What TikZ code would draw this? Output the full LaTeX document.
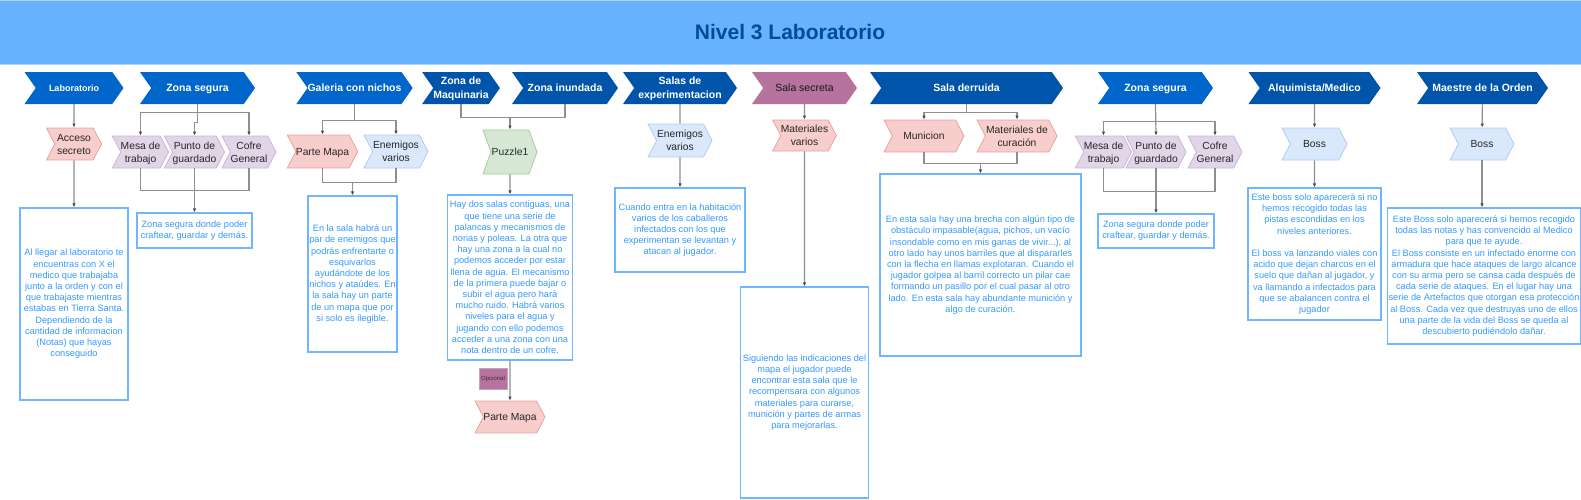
\documentclass[tikz,border=0pt]{standalone}
\usepackage{fontspec}
\setmainfont{Liberation Sans}
\usetikzlibrary{shapes.symbols, arrows.meta}

\definecolor{barra}{HTML}{66B2FF}
\definecolor{colortitulo}{HTML}{004C99}
\definecolor{azulA}{HTML}{0066CC}
\definecolor{azulB}{HTML}{0055AA}
\definecolor{morado}{HTML}{B5739D}
\definecolor{rosa}{HTML}{F8CECC}
\definecolor{rosaborde}{HTML}{E3A5A3}
\definecolor{lila}{HTML}{E1D5E7}
\definecolor{lilaborde}{HTML}{C9B6D5}
\definecolor{celeste}{HTML}{DAE8FC}
\definecolor{celesteborde}{HTML}{B3CBEE}
\definecolor{verde}{HTML}{D5E8D4}
\definecolor{verdeborde}{HTML}{AACC9F}
\definecolor{notaborde}{HTML}{70B5FF}
\definecolor{notatexto}{HTML}{3399FF}
\definecolor{linea}{HTML}{8F8F8F}

\tikzset{
  cabecera/.style={signal, signal from=west, signal to=east, signal pointer angle=110,
    fill=#1, draw=none, text=white, inner sep=0pt, minimum height=32, align=center,
    text depth=-3pt, font=\fontsize{10.5}{14}\selectfont\bfseries},
  cabecera/.default=azulA,
  etapa/.style={signal, signal from=west, signal to=east, signal pointer angle=125,
    line width=0.8pt, text=black!85, inner sep=0pt, minimum height=32, align=center,
    text depth=-3pt, font=\fontsize{10.3}{13}\selectfont},
  rosaetapa/.style={etapa, fill=rosa, draw=rosaborde},
  lilaetapa/.style={etapa, fill=lila, draw=lilaborde},
  celesteetapa/.style={etapa, fill=celeste, draw=celesteborde},
  verdeetapa/.style={etapa, fill=verde, draw=verdeborde},
  nota/.style={rectangle, draw=notaborde, line width=1.2pt, text=notatexto, fill=white,
    inner sep=1pt, align=center, font=\fontsize{9.2}{11.2}\selectfont},
  cn/.style={draw=linea, line width=1.2pt},
  arr/.style={cn, -{Latex[length=4pt, width=3.5pt, color=black!70]}}
}

\begin{document}
\begin{tikzpicture}[x=1pt, y=-1pt]
\useasboundingbox (0,0) rectangle (1581,499);

% Barra del titulo
\fill[barra] (0,0) rectangle (1581,65);
\draw[barra!55!white, line width=1pt] (0,0.5) -- (1581,0.5) (0,64.5) -- (1581,64.5);
\node[font=\fontsize{21}{24}\selectfont\bfseries, text=colortitulo] (titulo) at (790,32.5) {Nivel 3 Laboratorio};

% Cabeceras de las zonas
\node[cabecera, minimum width=99, font=\fontsize{9}{11}\selectfont\bfseries] (lab) at (74,88) {Laboratorio};
\node[cabecera, minimum width=115] (zs1) at (197.5,88) {Zona segura};
\node[cabecera, minimum width=115] (gal) at (354.5,88) {Galeria con nichos};
\node[cabecera=azulB, minimum width=72] (maq) at (461,88) {Zona de\\Maquinaria};
\node[cabecera=azulB, minimum width=106] (inu) at (565,88) {Zona inundada};
\node[cabecera=azulB, minimum width=114] (exp) at (680,88) {Salas de\\experimentacion};
\node[cabecera=morado, minimum width=105, text=black!90, font=\fontsize{10.5}{13}\selectfont] (sec) at (804.5,88) {Sala secreta};
\node[cabecera=azulB, minimum width=193] (der) at (966.5,88) {Sala derruida};
\node[cabecera, minimum width=115] (zs2) at (1155.5,88) {Zona segura};
\node[cabecera=azulB, minimum width=132] (alq) at (1314.5,88) {Alquimista/Medico};
\node[cabecera=azulB, minimum width=131] (mae) at (1482.5,88) {Maestre de la Orden};

% Elementos de cada zona
\node[rosaetapa, minimum width=55] (acc) at (74,144) {Acceso\\secreto};
\node[lilaetapa, minimum width=53] (mesa1) at (140.5,152) {Mesa de\\trabajo};
\node[lilaetapa, minimum width=55] (punto1) at (194.5,152) {Punto de\\guardado};
\node[lilaetapa, minimum width=54] (cofre1) at (249,152) {Cofre\\General};
\node[rosaetapa, minimum width=69, minimum height=33] (pm1) at (322.5,151.5) {Parte Mapa};
\node[celesteetapa, minimum width=64, minimum height=33] (en1) at (396,151.5) {Enemigos\\varios};
\node[verdeetapa, minimum width=54, minimum height=44, signal pointer angle=140] (puz) at (510,152) {Puzzle1};
\node[rosaetapa, minimum width=69] (pm2) at (510,417) {Parte Mapa};
\node[rectangle, fill=morado, draw=morado!70!white, minimum width=28, minimum height=21, inner sep=0pt,
  font=\fontsize{6}{7}\selectfont, text=black!80] (opc) at (493,378.5) {Opcional};
\node[celesteetapa, minimum width=64, minimum height=33] (en2) at (680,140.5) {Enemigos\\varios};
\node[rosaetapa, minimum width=56, minimum height=31] (mat) at (804.5,135.5) {Materiales\\varios};
\node[rosaetapa, minimum width=80] (mun) at (924,136) {Municion};
\node[rosaetapa, minimum width=80] (cur) at (1017,136) {Materiales de\\curación};
\node[lilaetapa, minimum width=55] (mesa2) at (1103.5,152) {Mesa de\\trabajo};
\node[lilaetapa, minimum width=54] (punto2) at (1156,152) {Punto de\\guardado};
\node[lilaetapa, minimum width=54] (cofre2) at (1215,152) {Cofre\\General};
\node[celesteetapa, minimum width=65] (boss1) at (1314.5,144) {Boss};
\node[celesteetapa, minimum width=64] (boss2) at (1482,144) {Boss};

% Notas de texto
\node[nota, minimum width=108, minimum height=192] (t1) at (74,304) {Al llegar al laboratorio te\\encuentras con X el\\medico que trabajaba\\junto a la orden y con el\\que trabajaste mientras\\estabas en Tierra Santa.\\Dependiendo de la\\cantidad de informacion\\(Notas) que hayas\\conseguido};
\node[nota, minimum width=115, minimum height=35] (t2) at (194.5,230.5) {Zona segura donde poder\\craftear, guardar y demás.};
\node[nota, minimum width=89, minimum height=156] (t3) at (352.5,274) {En la sala habrá un\\par de enemigos que\\podrás enfrentarte o\\esquivarlos\\ayudándote de los\\nichos y ataúdes. En\\la sala hay un parte\\de un mapa que por\\si solo es ilegible.};
\node[nota, minimum width=125, minimum height=165] (t4) at (510,277.5) {Hay dos salas contiguas, una\\que tiene una serie de\\palancas y mecanismos de\\norias y poleas. La otra que\\hay una zona a la cual no\\podemos acceder por estar\\llena de agua. El mecanismo\\de la primera puede bajar o\\subir el agua pero hará\\mucho ruido. Habrá varios\\niveles para el agua y\\jugando con ello podemos\\acceder a una zona con una\\nota dentro de un cofre.};
\node[nota, minimum width=130, minimum height=84] (t5) at (680,230) {Cuando entra en la habitación\\varios de los caballeros\\infectados con los que\\experimentan se levantan y\\atacan al jugador.};
\node[nota, minimum width=128, minimum height=211] (t6) at (804.5,392.5) {Siguiendo las indicaciones del\\mapa el jugador puede\\encontrar esta sala que le\\recompensara con algunos\\materiales para curarse,\\munición y partes de armas\\para mejorarlas.};
\node[nota, minimum width=201, minimum height=182] (t7) at (980.5,265) {En esta sala hay una brecha con algún tipo de\\obstáculo impasable(agua, pichos, un vacío\\insondable como en mis ganas de vivir...), al\\otro lado hay unos barriles que al dispararles\\con la flecha en llamas explotaran. Cuando el\\jugador golpea al barril correcto un pilar cae\\formando un pasillo por el cual pasar al otro\\lado. En esta sala hay abundante munición y\\algo de curación.};
\node[nota, minimum width=116, minimum height=34] (t8) at (1156,231) {Zona segura donde poder\\craftear, guardar y demás.};
\node[nota, minimum width=133, minimum height=132] (t9) at (1314.5,254) {Este boss solo aparecerá si no\\hemos recogido todas las\\pistas escondidas en los\\niveles anteriores.\\[11.2pt]El boss va lanzando viales con\\acido que dejan charcos en el\\suelo que dañan al jugador, y\\va llamando a infectados para\\que se abalancen contra el\\jugador};
\node[nota, minimum width=192, minimum height=136] (t10) at (1484,276) {Este Boss solo aparecerá si hemos recogido\\todas las notas y has convencido al Medico\\para que te ayude.\\El Boss consiste en un infectado enorme con\\armadura que hace ataques de largo alcance\\con su arma pero se cansa cada después de\\cada serie de ataques. En el lugar hay una\\serie de Artefactos que otorgan esa protección\\al Boss. Cada vez que destruyas uno de ellos\\una parte de la vida del Boss se queda al\\descubierto pudiéndolo dañar.};

% Puntos de union
\coordinate (j1) at (510,117);
\coordinate (j2) at (352.5,182);
\coordinate (j3) at (980.5,163);

% Conectores
\draw[arr] (lab) -- (acc);
\draw[arr] (acc) -- (t1);

\draw[arr] (zs1.south) -- ++(0,8) -| (mesa1.north);
\draw[arr] (zs1.south) -- ++(0,8) -| (cofre1.north);
\draw[arr] (zs1.south) -- ++(0,18) -| (punto1.north);
\draw[cn] (mesa1.south) -- ++(0,22) -| (cofre1.south);
\draw[arr] (punto1.south) -- (t2.north);

\draw[arr] (gal.south) -- ++(0,16) -| (pm1.north);
\draw[arr] (gal.south) -- ++(0,16) -| (en1.north);
\draw[cn] (pm1.south) -- ++(0,14) -| (en1.south);
\draw[arr] (j2) -- (t3.north);

\draw[cn] (maq.south) -- ++(0,13) -| (inu.south);
\draw[arr] (j1) -- (puz.north);
\draw[arr] (puz) -- (t4);
\draw[arr] (t4) -- (pm2);

\draw[cn] (exp) -- (en2);
\draw[arr] (en2) -- (t5);

\draw[arr] (sec) -- (mat);
\draw[arr] (mat) -- (t6);

\draw[arr] (der.south) -- ++(0,8) -| (mun.north);
\draw[arr] (der.south) -- ++(0,8) -| (cur.north);
\draw[cn] (mun.south) -- ++(0,11) -| (cur.south);
\draw[arr] (j3) -- (t7.north);

\draw[arr] (zs2.south) -- ++(0,17) -| (mesa2.north);
\draw[arr] (zs2.south) -- ++(0,17) -| (cofre2.north);
\draw[arr] (zs2.south) -- (punto2.north);
\draw[cn] (mesa2.south) -- ++(0,23) -| (cofre2.south);
\draw[arr] (punto2.south) -- (t8.north);

\draw[arr] (alq) -- (boss1);
\draw[arr] (boss1) -- (t9);

\draw[arr] (mae) -- (boss2);
\draw[arr] (boss2.south) -- (boss2.south |- t10.north);

\end{tikzpicture}
\end{document}
